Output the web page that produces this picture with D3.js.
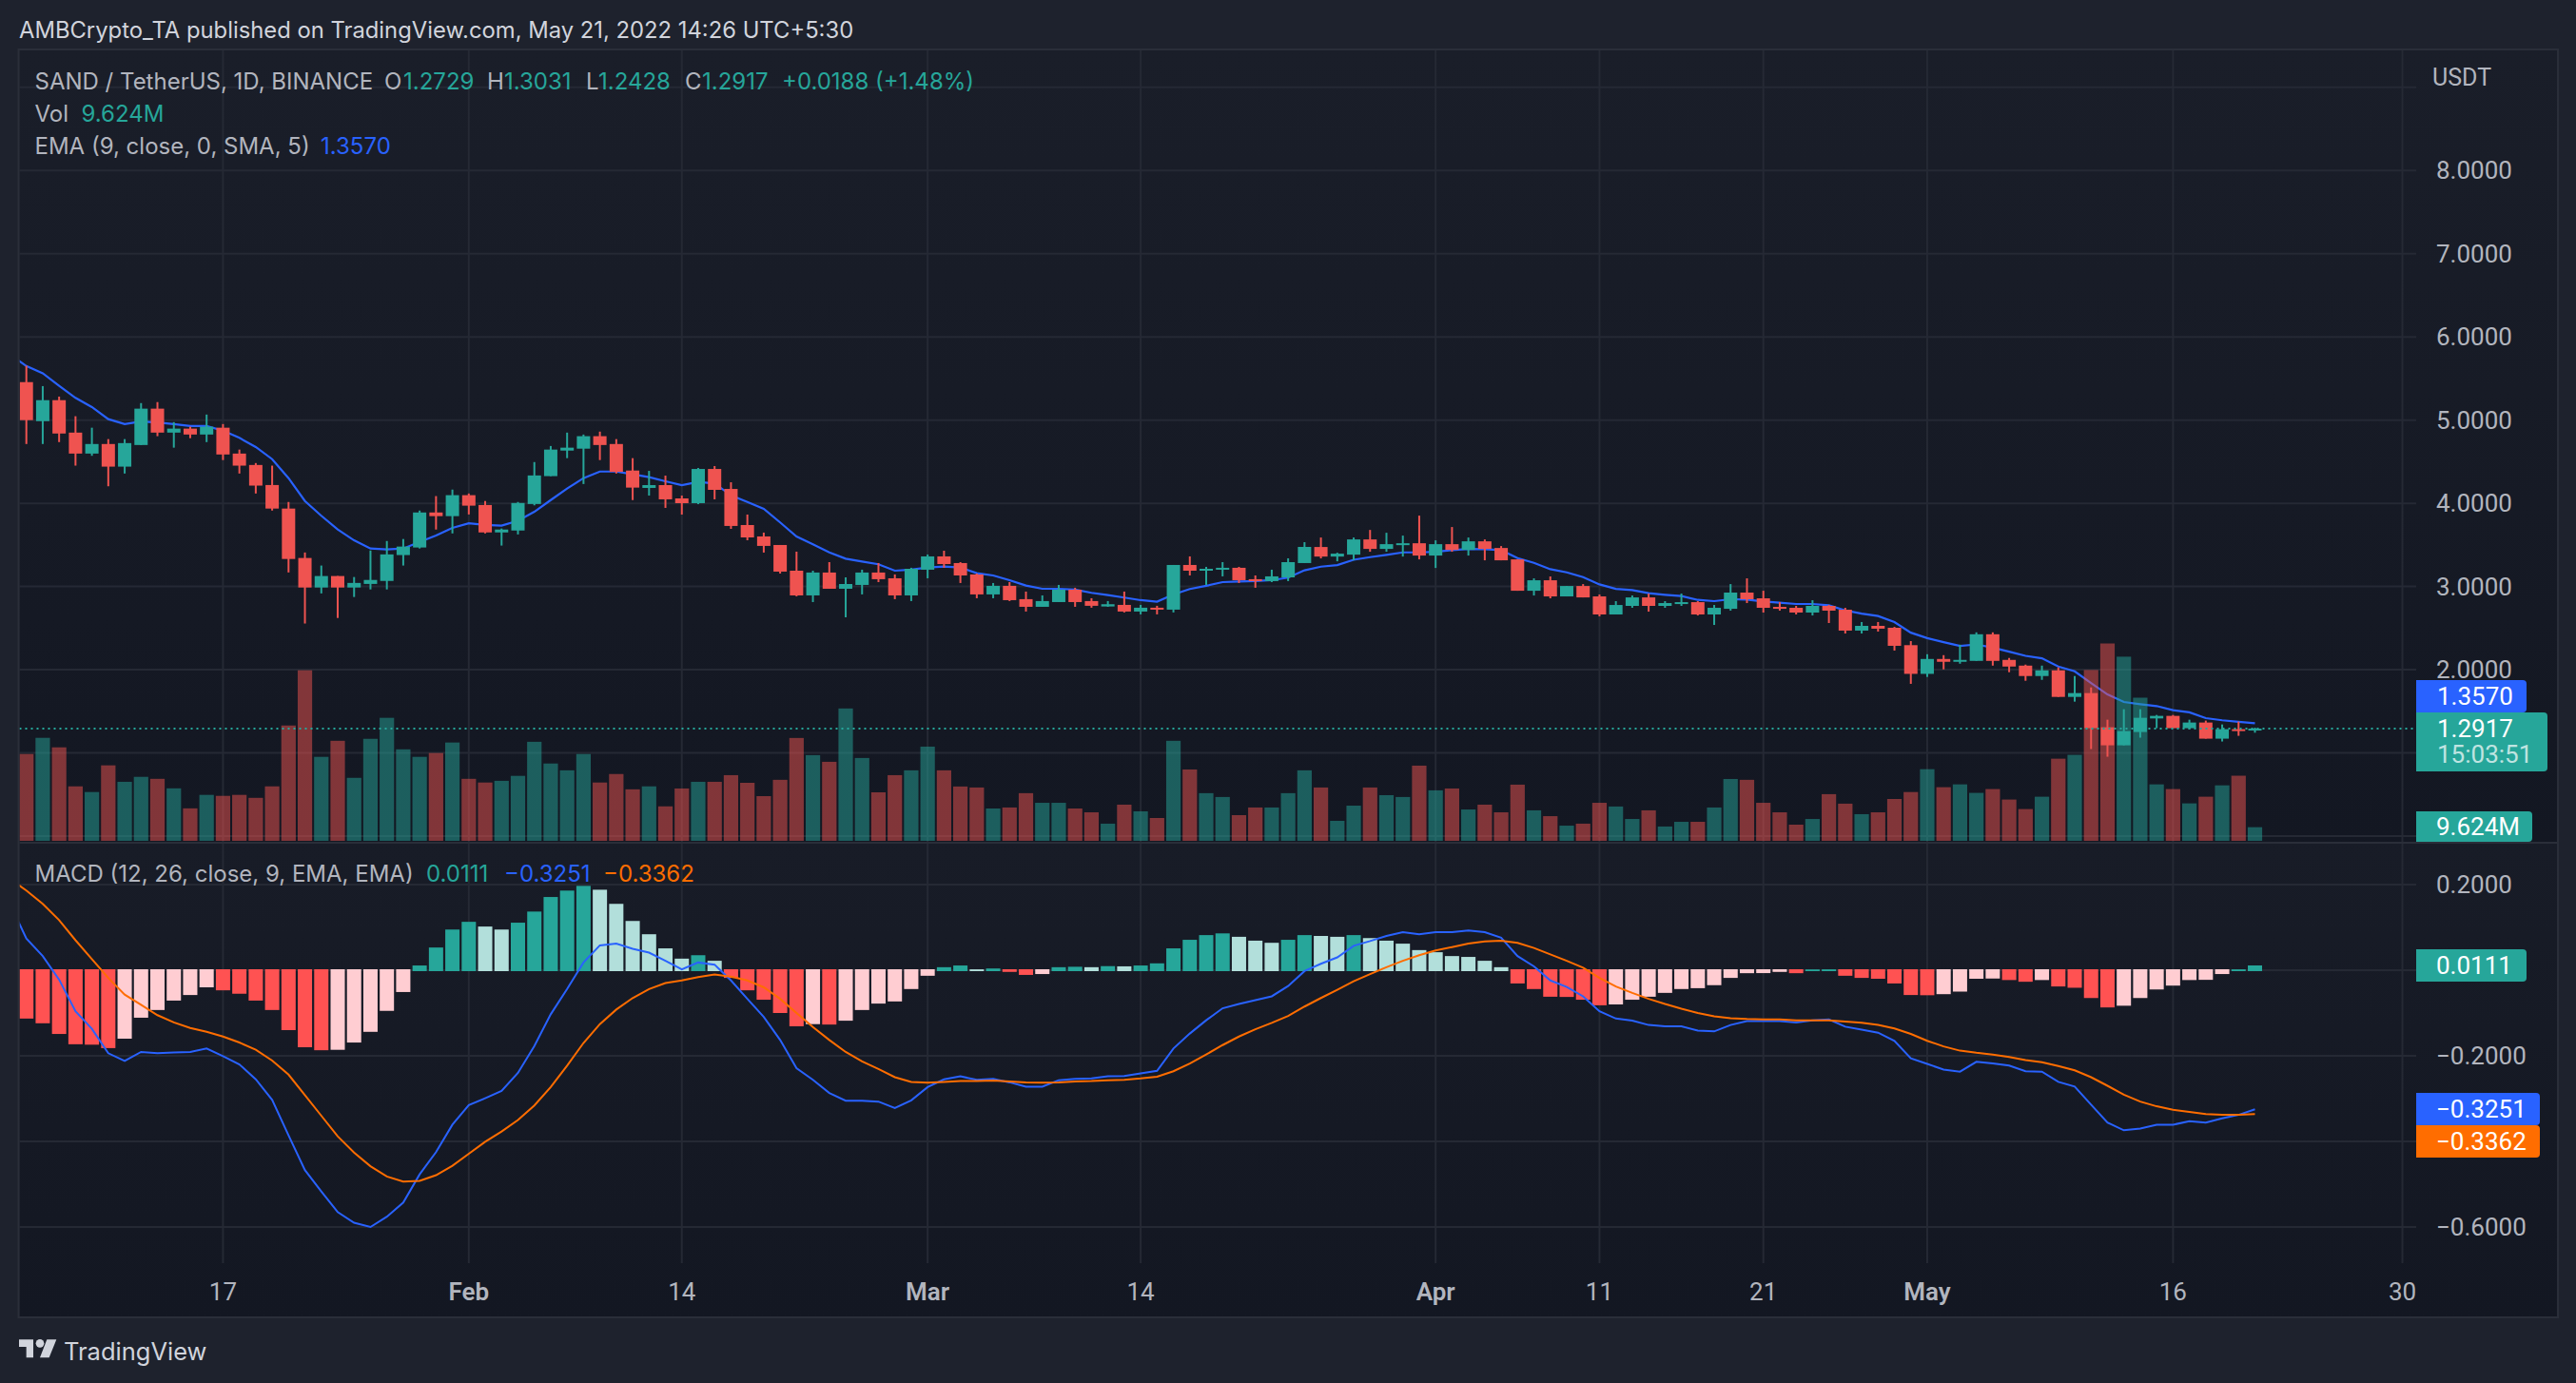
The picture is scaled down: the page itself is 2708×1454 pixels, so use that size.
<!DOCTYPE html>
<html><head><meta charset="utf-8">
<script src="https://cdn.jsdelivr.net/npm/d3@7/dist/d3.min.js"></script>
<style>html,body{margin:0;padding:0;background:#1e222d}svg{display:block}</style>
</head><body><svg id="c" width="2708" height="1454"></svg>
<script>
// ---------- data (Jan 5 – May 21 2022, daily; index 0 = Jan 5) ----------
const opens=[5.457,4.988,5.24,4.85,4.598,4.713,4.441,4.701,5.138,4.85,4.898,4.827,4.909,4.598,4.461,4.22,3.937,3.343,2.988,3.126,2.988,3.031,3.067,3.378,3.469,3.89,3.846,4.098,3.98,3.65,3.673,3.992,4.327,4.634,4.657,4.807,4.713,4.394,4.185,4.219,4.059,4.002,4.413,4.173,3.739,3.602,3.499,3.19,2.893,3.168,2.973,3.019,3.168,3.099,2.893,3.202,3.362,3.282,3.145,2.905,3.008,2.848,2.756,2.813,2.962,2.825,2.76,2.779,2.699,2.745,2.722,3.259,3.19,3.202,3.225,3.088,3.065,3.11,3.282,3.475,3.36,3.383,3.566,3.452,3.498,3.52,3.372,3.509,3.44,3.543,3.463,3.326,2.949,3.075,2.881,3.006,2.881,2.664,2.767,2.869,2.767,2.793,2.812,2.664,2.732,2.927,2.858,2.755,2.744,2.687,2.767,2.721,2.47,2.527,2.504,2.295,1.95,2.129,2.095,2.106,2.426,2.118,2.049,1.924,1.992,1.673,1.719,1.308,1.091,1.251,1.414,1.445,1.297,1.365,1.171,1.285,1.2729];
const highs=[5.654,5.409,5.283,5.047,4.909,4.772,4.772,5.205,5.217,4.976,4.921,5.067,4.953,4.646,4.484,4.453,4.016,3.409,3.252,3.126,3.114,3.433,3.547,3.571,3.913,4.087,4.165,4.118,4.028,3.697,4.016,4.496,4.689,4.85,4.827,4.862,4.772,4.543,4.39,4.333,4.093,4.425,4.448,4.253,3.865,3.648,3.499,3.419,3.19,3.293,3.11,3.202,3.282,3.145,3.225,3.385,3.43,3.293,3.156,3.042,3.053,2.939,2.893,3.019,2.985,2.859,2.825,2.939,2.779,2.768,3.259,3.362,3.236,3.293,3.236,3.133,3.202,3.339,3.533,3.589,3.406,3.589,3.68,3.646,3.612,3.852,3.555,3.715,3.589,3.566,3.486,3.326,3.098,3.121,3.006,3.029,2.904,2.824,2.892,2.915,2.824,2.915,2.824,2.778,3.029,3.098,2.949,2.812,2.767,2.835,2.778,2.744,2.573,2.573,2.515,2.344,2.186,2.175,2.3,2.449,2.449,2.141,2.061,2.049,2.027,1.924,1.787,1.399,1.525,1.525,1.456,1.456,1.399,1.388,1.342,1.376,1.3031];
const lows=[4.713,4.713,4.736,4.453,4.571,4.205,4.358,4.701,4.807,4.669,4.783,4.736,4.52,4.358,4.118,3.913,3.169,2.555,2.917,2.622,2.874,2.965,2.965,3.252,3.457,3.685,3.638,3.866,3.638,3.492,3.626,3.976,4.327,4.543,4.232,4.52,4.358,4.039,4.093,3.945,3.865,3.99,4.048,3.693,3.556,3.408,3.156,2.882,2.813,2.973,2.63,2.905,3.053,2.848,2.825,3.099,3.225,3.042,2.859,2.859,2.825,2.699,2.756,2.813,2.756,2.745,2.756,2.688,2.665,2.665,2.688,3.133,3.019,3.122,3.042,2.985,3.053,3.065,3.282,3.338,3.303,3.315,3.418,3.418,3.36,3.326,3.223,3.418,3.372,3.315,3.315,2.949,2.892,2.858,2.881,2.869,2.641,2.664,2.744,2.698,2.744,2.767,2.652,2.538,2.71,2.801,2.687,2.71,2.664,2.652,2.561,2.435,2.435,2.458,2.23,1.83,1.913,2.004,2.072,2.106,2.049,1.97,1.867,1.878,1.673,1.616,1.046,0.954,1.091,1.183,1.297,1.297,1.285,1.171,1.137,1.205,1.2428];
const closes=[5.0,5.24,4.839,4.598,4.713,4.441,4.724,5.138,4.85,4.898,4.827,4.921,4.587,4.453,4.213,3.937,3.331,2.988,3.126,2.988,3.043,3.079,3.386,3.48,3.89,3.846,4.098,3.972,3.65,3.685,4.004,4.335,4.646,4.669,4.807,4.701,4.378,4.189,4.219,4.048,4.002,4.413,4.162,3.728,3.59,3.488,3.179,2.893,3.168,2.973,3.03,3.168,3.088,2.893,3.213,3.362,3.27,3.133,2.905,3.008,2.836,2.756,2.825,2.962,2.813,2.768,2.787,2.699,2.745,2.722,3.259,3.19,3.213,3.225,3.076,3.065,3.122,3.293,3.476,3.36,3.395,3.566,3.452,3.509,3.52,3.372,3.509,3.44,3.543,3.452,3.315,2.949,3.075,2.881,3.006,2.869,2.664,2.778,2.869,2.767,2.801,2.812,2.664,2.744,2.927,2.847,2.744,2.732,2.687,2.767,2.71,2.47,2.527,2.493,2.287,1.95,2.129,2.095,2.118,2.426,2.106,2.038,1.924,1.992,1.673,1.719,1.297,1.091,1.262,1.422,1.445,1.297,1.365,1.171,1.285,1.2729,1.2917];
// EMA 9 — first entry is the Jan 4 value just left of the chart edge
const emaLine=[5.791,5.65,5.563,5.413,5.268,5.157,5.012,4.953,4.984,4.972,4.953,4.929,4.929,4.874,4.787,4.677,4.531,4.303,4.028,3.85,3.685,3.555,3.457,3.445,3.457,3.535,3.614,3.705,3.76,3.74,3.732,3.791,3.898,4.039,4.177,4.303,4.382,4.382,4.35,4.314,4.265,4.219,4.257,4.238,4.097,4.017,3.933,3.77,3.602,3.507,3.411,3.335,3.301,3.267,3.19,3.202,3.229,3.24,3.229,3.16,3.133,3.076,3.011,2.973,2.973,2.962,2.924,2.897,2.867,2.836,2.817,2.905,2.97,3.008,3.053,3.061,3.065,3.076,3.107,3.195,3.239,3.258,3.322,3.353,3.38,3.41,3.41,3.418,3.437,3.452,3.448,3.437,3.341,3.284,3.208,3.17,3.113,3.025,2.972,2.957,2.919,2.9,2.885,2.839,2.824,2.847,2.843,2.82,2.805,2.79,2.79,2.774,2.713,2.675,2.645,2.573,2.445,2.38,2.331,2.285,2.304,2.266,2.217,2.167,2.137,2.038,1.981,1.84,1.703,1.612,1.586,1.563,1.513,1.487,1.418,1.392,1.373,1.357];
// volume in millions
const volumes=[61.2,72.6,65.9,38.4,34.4,53.2,41.6,45.1,43.7,37,22.9,32.4,31.7,32.4,30.3,38.4,81.3,120.2,59.2,70.5,44.4,71.9,86.7,64.5,59.2,61.9,69.3,43.7,41.1,42.3,45.8,69.8,54.5,49.7,61.2,41.1,47.1,36.3,38.4,24.3,36.9,41.6,41.6,46.3,40.9,31.5,43,72.5,60.4,55.7,93.3,58.4,34.2,46.3,49.7,66.4,49.7,38.3,37.6,22.8,23.5,33.6,26.8,26.8,22.8,20.1,12.1,25.5,20.8,16.1,70.5,50.3,33.6,30.9,18.1,23.5,23.5,33.6,49.7,37.6,14.1,24.8,37.6,32.2,30.9,53,35.6,36.9,22.1,25.5,20.1,39.6,21.5,17.4,10.7,12.1,26.8,24.2,15.4,21.5,10.1,13.4,13.4,23.5,43.6,43,26.8,20.1,11.4,15.4,32.9,26.2,18.8,20.1,29.5,34.4,50.5,37.8,39.8,33.8,36.5,29.1,22.4,31.1,57.9,60.6,120.4,139.1,129.8,100.9,39.8,36.5,26.4,31.1,39.1,45.9,9.624];
const histogram=[-0.113,-0.124,-0.149,-0.173,-0.174,-0.182,-0.16,-0.111,-0.093,-0.071,-0.058,-0.04,-0.047,-0.055,-0.071,-0.093,-0.14,-0.18,-0.187,-0.186,-0.169,-0.144,-0.095,-0.051,0.011,0.053,0.095,0.113,0.102,0.095,0.111,0.137,0.171,0.186,0.197,0.188,0.155,0.115,0.084,0.051,0.027,0.035,0.022,-0.018,-0.047,-0.069,-0.1,-0.131,-0.126,-0.127,-0.118,-0.093,-0.078,-0.073,-0.044,-0.013,0.007,0.011,0.002,0.004,-0.004,-0.011,-0.009,0.007,0.008,0.007,0.0095,0.009,0.011,0.016,0.051,0.071,0.082,0.086,0.078,0.069,0.064,0.071,0.082,0.08,0.078,0.082,0.075,0.069,0.062,0.047,0.042,0.033,0.031,0.022,0.007,-0.031,-0.044,-0.062,-0.0625,-0.069,-0.082,-0.08,-0.069,-0.062,-0.053,-0.044,-0.042,-0.035,-0.018,-0.007,-0.0068,-0.004,-0.007,0.0018,0.002,-0.013,-0.018,-0.02,-0.031,-0.058,-0.0585,-0.056,-0.05,-0.02,-0.0195,-0.023,-0.027,-0.023,-0.038,-0.041,-0.065,-0.087,-0.083,-0.065,-0.045,-0.036,-0.023,-0.0225,-0.009,0.002,0.0111];
// MACD & signal — first entry is the Jan 4 value just left of the chart edge
const macdLine=[0.155,0.074,0.033,-0.022,-0.096,-0.137,-0.194,-0.212,-0.191,-0.194,-0.192,-0.191,-0.183,-0.201,-0.22,-0.255,-0.303,-0.386,-0.467,-0.517,-0.565,-0.59,-0.6,-0.576,-0.543,-0.477,-0.425,-0.361,-0.315,-0.299,-0.282,-0.24,-0.177,-0.103,-0.044,0.018,0.058,0.062,0.05,0.041,0.022,0.002,0.018,0.013,-0.024,-0.067,-0.109,-0.163,-0.229,-0.256,-0.287,-0.305,-0.305,-0.307,-0.322,-0.304,-0.273,-0.255,-0.248,-0.256,-0.254,-0.262,-0.272,-0.272,-0.257,-0.254,-0.253,-0.248,-0.247,-0.241,-0.235,-0.183,-0.148,-0.117,-0.089,-0.079,-0.07,-0.061,-0.037,-0.002,0.015,0.03,0.057,0.068,0.08,0.089,0.084,0.089,0.089,0.093,0.089,0.076,0.033,0.009,-0.024,-0.039,-0.061,-0.096,-0.113,-0.118,-0.128,-0.131,-0.131,-0.141,-0.143,-0.128,-0.119,-0.119,-0.119,-0.122,-0.117,-0.115,-0.132,-0.139,-0.146,-0.165,-0.206,-0.219,-0.232,-0.237,-0.214,-0.218,-0.223,-0.236,-0.237,-0.261,-0.272,-0.314,-0.356,-0.374,-0.37,-0.361,-0.361,-0.353,-0.356,-0.346,-0.338,-0.3251];
const signalLine=[0.214,0.186,0.155,0.117,0.07,0.026,-0.018,-0.057,-0.081,-0.105,-0.122,-0.135,-0.144,-0.155,-0.169,-0.186,-0.211,-0.244,-0.292,-0.34,-0.388,-0.426,-0.458,-0.482,-0.494,-0.492,-0.479,-0.457,-0.429,-0.401,-0.377,-0.35,-0.316,-0.273,-0.223,-0.17,-0.126,-0.092,-0.065,-0.044,-0.03,-0.024,-0.016,-0.01,-0.015,-0.024,-0.04,-0.067,-0.1,-0.133,-0.163,-0.191,-0.213,-0.231,-0.25,-0.261,-0.263,-0.261,-0.259,-0.259,-0.258,-0.26,-0.262,-0.263,-0.262,-0.26,-0.259,-0.257,-0.256,-0.253,-0.249,-0.236,-0.218,-0.197,-0.175,-0.155,-0.138,-0.123,-0.107,-0.085,-0.065,-0.046,-0.026,-0.009,0.007,0.022,0.035,0.046,0.054,0.062,0.067,0.069,0.064,0.052,0.037,0.022,0.006,-0.018,-0.038,-0.053,-0.067,-0.079,-0.09,-0.1,-0.108,-0.112,-0.114,-0.115,-0.115,-0.117,-0.117,-0.117,-0.12,-0.123,-0.128,-0.136,-0.149,-0.165,-0.178,-0.188,-0.193,-0.197,-0.203,-0.21,-0.215,-0.224,-0.234,-0.25,-0.27,-0.291,-0.307,-0.318,-0.326,-0.331,-0.336,-0.338,-0.338,-0.3362];
const priceTicks=[0,1,2,3,4,5,6,7,8,9];
const priceLabels=[2,3,4,5,6,7,8];
const macdTicks=[0.2,0,-0.2,-0.4,-0.6];
const macdLabels=[0.2,-0.2,-0.6];
const timeIdx=[12,27,40,55,68,86,96,106,116,131,145];
const timeLabels=["17","Feb","14","Mar","14","Apr","11","21","May","16","30"];
const boldLabels=["Feb","Mar","Apr","May"];

// ---------- palette / fonts ----------
const UP="#26a69a",DOWN="#ef5350",BLUE="#2962ff",ORANGE="#ff6d00",GRID="#252934",
 TXT="#b2b5be",FONT="Roboto, Inter, sans-serif",LEG="Inter, Roboto, sans-serif";
const HD="#ff5252",HL="#ffcdd2",HU="#26a69a",HUL="#b2dfdb";

const svg=d3.select("#c");
// ---------- scales ----------
const x=d3.scaleLinear().domain([0,136]).range([27.7,2370.5]);
const yP=d3.scaleLinear().domain([0,5]).range([879,441.7]);
const yV=d3.scaleLinear().domain([0,120]).range([884,705]);
const yM=d3.scaleLinear().domain([0,-0.6]).range([1020,1290]);
const L=20.5,R=2540,T=53,PB=885,MT=887,B=1328,RE=2688,BE=1384;

// ---------- backgrounds ----------
const defs=svg.append("defs");
[["g1","#1a1e29","#131722"],["g2","#181c27","#131722"]].forEach(([id,a,b])=>{
  const g=defs.append("linearGradient").attr("id",id).attr("x1",0).attr("x2",0).attr("y1",0).attr("y2",1);
  g.append("stop").attr("offset",0).attr("stop-color",a);
  g.append("stop").attr("offset",1).attr("stop-color",b);
});
defs.append("clipPath").attr("id","pc").append("rect").attr("x",L).attr("y",T).attr("width",R-L).attr("height",PB-T);
defs.append("clipPath").attr("id","mc").append("rect").attr("x",L).attr("y",MT).attr("width",R-L).attr("height",BE-MT);
svg.append("rect").attr("width",2708).attr("height",1454).attr("fill","#1e222d");
svg.append("rect").attr("x",L).attr("y",T).attr("width",RE-L).attr("height",PB-T).attr("fill","url(#g1)");
svg.append("rect").attr("x",L).attr("y",PB).attr("width",RE-L).attr("height",BE-PB).attr("fill","url(#g2)");

// ---------- grid ----------
const grid=svg.append("g").attr("stroke",GRID).attr("stroke-width",2);
grid.selectAll(".v").data(timeIdx).join("line").attr("x1",d=>x(d)).attr("x2",d=>x(d)).attr("y1",T).attr("y2",B);
grid.selectAll(".p").data(priceTicks).join("line").attr("x1",L).attr("x2",R).attr("y1",d=>yP(d)).attr("y2",d=>yP(d));
grid.selectAll(".m").data(macdTicks).join("line").attr("x1",L).attr("x2",R).attr("y1",d=>yM(d)).attr("y2",d=>yM(d));

// ---------- main pane ----------
const main=svg.append("g").attr("clip-path","url(#pc)");
const emaGen=d3.line().x((d,i)=>x(i-1)).y(d=>yP(d));
main.append("path").attr("d",emaGen(emaLine)).attr("fill","none").attr("stroke",BLUE).attr("stroke-width",2.2);
const vw=15.2;
main.selectAll(".vol").data(volumes).join("rect")
  .attr("x",(d,i)=>x(i)-vw/2).attr("width",vw).attr("y",d=>yV(d)).attr("height",d=>yV(0)-yV(d))
  .attr("fill",(d,i)=>closes[i]>=opens[i]?UP:DOWN).attr("fill-opacity",0.5);
const cw=14;
main.selectAll(".wick").data(highs).join("rect")
  .attr("x",(d,i)=>x(i)-1).attr("width",2).attr("y",d=>yP(d)).attr("height",(d,i)=>yP(lows[i])-yP(d))
  .attr("fill",(d,i)=>closes[i]>=opens[i]?UP:DOWN);
main.selectAll(".body").data(opens).join("rect")
  .attr("x",(d,i)=>x(i)-cw/2).attr("width",cw)
  .attr("y",(d,i)=>yP(Math.max(d,closes[i])))
  .attr("height",(d,i)=>Math.max(2,Math.abs(yP(d)-yP(closes[i]))))
  .attr("fill",(d,i)=>closes[i]>=opens[i]?UP:DOWN);
// last price dotted line
svg.append("line").attr("x1",L).attr("x2",R).attr("y1",yP(1.2917)).attr("y2",yP(1.2917))
  .attr("stroke",UP).attr("stroke-width",2).attr("stroke-dasharray","2 4");

// pane separator
svg.append("rect").attr("x",L).attr("y",PB).attr("width",RE-L).attr("height",2).attr("fill","#2a2e39");

// ---------- MACD pane ----------
const mp=svg.append("g").attr("clip-path","url(#mc)");
const hw=15;
mp.selectAll(".h").data(histogram).join("rect")
  .attr("x",(d,i)=>x(i)-hw/2).attr("width",hw)
  .attr("y",d=>d>=0?yM(d):yM(0)-1)
  .attr("height",d=>d>=0?yM(0)-yM(d)+1:yM(d)-yM(0)+1)
  .attr("fill",(d,i)=>{const up=i>0&&d>histogram[i-1];return d>=0?(up?HU:HUL):(up?HL:HD);});
const mGen=d3.line().x((d,i)=>x(i-1)).y(d=>yM(d));
mp.append("path").attr("d",mGen(macdLine)).attr("fill","none").attr("stroke",BLUE).attr("stroke-width",2);
mp.append("path").attr("d",mGen(signalLine)).attr("fill","none").attr("stroke",ORANGE).attr("stroke-width",2);

// ---------- frame ----------
svg.append("rect").attr("x",L-1).attr("y",T-1).attr("width",RE-L+2).attr("height",BE-T+2)
  .attr("fill","none").attr("stroke","#2a2e39").attr("stroke-width",2);

// ---------- text helpers ----------
function t(s,px,py,col,size,opt={}){
  return svg.append("text").text(s).attr("x",px).attr("y",py).attr("fill",col)
   .attr("font-family",opt.family||FONT).attr("font-size",size).attr("font-weight",opt.w||400)
   .attr("text-anchor",opt.a||"start").attr("dominant-baseline","central")
   .attr("opacity",opt.o==null?1:opt.o);
}
const fmt=d3.format(".4f");
const signed=v=>(v<0?"\u2212":"")+fmt(Math.abs(v));
const leg=(s,px,py,col)=>t(s,px,py,col,24,{family:LEG});

// header & legends
const TC="#d1d4dc";
t("AMBCrypto_TA published on TradingView.com, May 21, 2022 14:26 UTC+5:30",20,31.5,TC,23.8,{family:LEG});
leg("SAND / TetherUS, 1D, BINANCE",36.5,85,TXT);
[["O",404,TXT],["1.2729",424,UP],["H",512,TXT],["1.3031",530,UP],["L",616,TXT],["1.2428",629,UP],["C",720,TXT],["1.2917",738,UP],["+0.0188 (+1.48%)",822,UP]]
 .forEach(d=>leg(d[0],d[1],85,d[2]));
leg("Vol",36.5,119,TXT); leg("9.624M",85.5,119,UP);
leg("EMA (9, close, 0, SMA, 5)",36.5,153.5,TXT); leg("1.3570",337,153.5,BLUE);
leg("MACD (12, 26, close, 9, EMA, EMA)",36.5,918,TXT);
leg("0.0111",448,918,UP); leg("\u22120.3251",530,918,BLUE); leg("\u22120.3362",634,918,ORANGE);

// axes labels
const AS=26;
t("USDT",2557,81,TXT,25);
priceLabels.forEach(v=>t(fmt(v),2561,yP(v),TXT,AS));
macdLabels.forEach(v=>t(signed(v),2561,yM(v),TXT,AS));
timeLabels.forEach((s,i)=>t(s,x(timeIdx[i]),1358,TXT,AS,{a:"middle",w:boldLabels.includes(s)?600:400}));

// tags
function tag(y0,y1,x1,col){
  svg.append("path").attr("fill",col).attr("d",`M2540 ${y0}H${x1-4}Q${x1} ${y0} ${x1} ${y0+4}V${y1-4}Q${x1} ${y1} ${x1-4} ${y1}H2540Z`);
}
tag(715,749,2656,BLUE); t("1.3570",2562,732,"#fff",AS);
tag(749,811,2678,UP);  t("1.2917",2562,766,"#fff",AS); t("15:03:51",2562,793,"#fff",AS,{o:0.7});
tag(853,885,2662,UP);  t("9.624M",2561,869,"#fff",AS);
tag(998,1032,2656,UP); t("0.0111",2561,1015,"#fff",AS);
tag(1149,1183,2670,BLUE); t("\u22120.3251",2561,1166,"#fff",AS);
tag(1183,1217,2670,ORANGE); t("\u22120.3362",2561,1200,"#fff",AS);

// TradingView logo
const logo=svg.append("g").attr("fill",TC).attr("transform","translate(0,1370) scale(0.3333)");
logo.append("path").attr("d","M60 115H105V172H83V138H60Z");
logo.append("circle").attr("cx",126).attr("cy",127).attr("r",13);
logo.append("path").attr("d","M148 115H178L155 172H126Z");
t("TradingView",67,1420,TC,25.5,{family:LEG});
</script></body></html>
